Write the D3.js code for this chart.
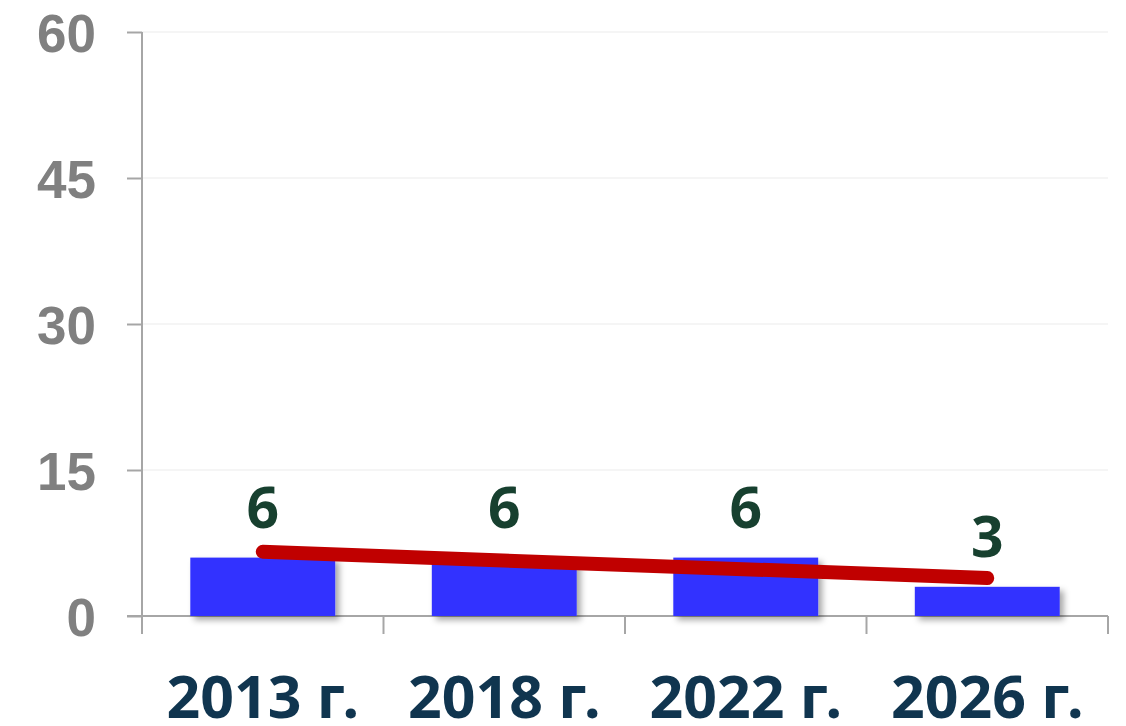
<!DOCTYPE html>
<html>
<head>
<meta charset="utf-8">
<script src="https://cdn.jsdelivr.net/npm/d3@7"></script>
<style>
  body { margin: 0; background: #fff; }
  svg { display: block; }
</style>
</head>
<body>
<div class="chart-container"></div>
<script>
// data
const years = ['2013 г.', '2018 г.', '2022 г.', '2026 г.'];
const values = [6, 6, 6, 3];
const yTicks = [0, 15, 30, 45, 60];

const W = 1126, H = 726;
const margin = { top: 32, right: 18, bottom: 110, left: 142 };
const width = W - margin.left - margin.right;
const height = H - margin.top - margin.bottom;

const svg = d3.select('.chart-container')
    .append('svg')
    .attr('width', W)
    .attr('height', H);

const defs = svg.append('defs');
const f = defs.append('filter').attr('id', 'shadow')
    .attr('x', '-10%').attr('y', '-20%').attr('width', '130%').attr('height', '160%');
f.append('feDropShadow')
    .attr('dx', 4).attr('dy', 4).attr('stdDeviation', 3)
    .attr('flood-color', '#000').attr('flood-opacity', 0.35);

const g = svg.append('g')
    .attr('transform', `translate(${margin.left},${margin.top})`);

const x = d3.scaleBand()
    .domain(years)
    .range([0, width])
    .paddingInner(0.4)
    .paddingOuter(0.2);

const xo = d3.scaleBand().domain(years).range([0, width]);

const y = d3.scaleLinear()
    .domain([0, 60])
    .range([height, 0]);

// gridlines
g.append('g')
    .selectAll('line')
    .data(yTicks.filter(d => d > 0))
    .enter().append('line')
    .attr('x1', 0).attr('x2', width)
    .attr('y1', d => y(d)).attr('y2', d => y(d))
    .attr('stroke', '#f2f2f2')
    .attr('stroke-width', 1.5);

// y axis
const yAxis = g.append('g')
    .call(d3.axisLeft(y).tickValues(yTicks).tickSize(15).tickPadding(31));
yAxis.selectAll('line').attr('stroke', '#a6a6a6').attr('stroke-width', 2);
yAxis.select('.domain').attr('stroke', '#a6a6a6').attr('stroke-width', 2)
    .attr('d', `M0,0V${height + 18}`);
yAxis.selectAll('text')
    .attr('fill', '#808080')
    .attr('font-family', '"Liberation Sans", Arial, sans-serif')
    .attr('font-weight', 'bold')
    .attr('font-size', '53px')
    .attr('dy', '0.36em');

// x axis line + category ticks
const xg = g.append('g').attr('transform', `translate(0,${height})`);
xg.append('line')
    .attr('x1', -15).attr('x2', width)
    .attr('stroke', '#a6a6a6').attr('stroke-width', 2);
xg.selectAll('.xt')
    .data(years.slice(1).map(d => xo(d)).concat([width]))
    .enter().append('line')
    .attr('x1', d => d).attr('x2', d => d)
    .attr('y1', 0).attr('y2', 18)
    .attr('stroke', '#a6a6a6').attr('stroke-width', 2);

xg.selectAll('.xl')
    .data(years)
    .enter().append('text')
    .attr('x', d => xo(d) + xo.bandwidth() / 2)
    .attr('y', 102)
    .attr('text-anchor', 'middle')
    .attr('fill', '#10354f')
    .attr('font-family', '"Noto Sans", "Open Sans", sans-serif')
    .attr('font-weight', 'bold')
    .attr('font-size', '59px')
    .text(d => d);

// bars
g.selectAll('.bar')
    .data(values)
    .enter().append('rect')
    .attr('x', (d, i) => x(years[i]))
    .attr('y', d => y(d))
    .attr('width', x.bandwidth())
    .attr('height', d => height - y(d))
    .attr('fill', '#3333ff')
    .attr('filter', 'url(#shadow)');

// linear trend line
const n = values.length;
const xs = values.map((d, i) => i + 1);
const mx = d3.mean(xs), my = d3.mean(values);
const slope = d3.sum(xs, (xi, i) => (xi - mx) * (values[i] - my)) / d3.sum(xs, xi => (xi - mx) ** 2);
const icpt = my - slope * mx;
const trend = years.map((d, i) => ({ cx: xo(d) + xo.bandwidth() / 2, v: icpt + slope * (i + 1) }));

g.append('path')
    .datum([trend[0], trend[n - 1]])
    .attr('d', d3.line().x(d => d.cx).y(d => y(d.v)))
    .attr('fill', 'none')
    .attr('stroke', '#c00000')
    .attr('stroke-width', 14)
    .attr('stroke-linecap', 'round');

// value labels
g.selectAll('.lbl')
    .data(values)
    .enter().append('text')
    .attr('x', (d, i) => xo(years[i]) + xo.bandwidth() / 2)
    .attr('y', d => y(d) - 30)
    .attr('text-anchor', 'middle')
    .attr('fill', '#17402f')
    .attr('font-family', '"Noto Sans", "Open Sans", sans-serif')
    .attr('font-weight', 'bold')
    .attr('font-size', '57px')
    .text(d => d);
</script>
</body>
</html>
